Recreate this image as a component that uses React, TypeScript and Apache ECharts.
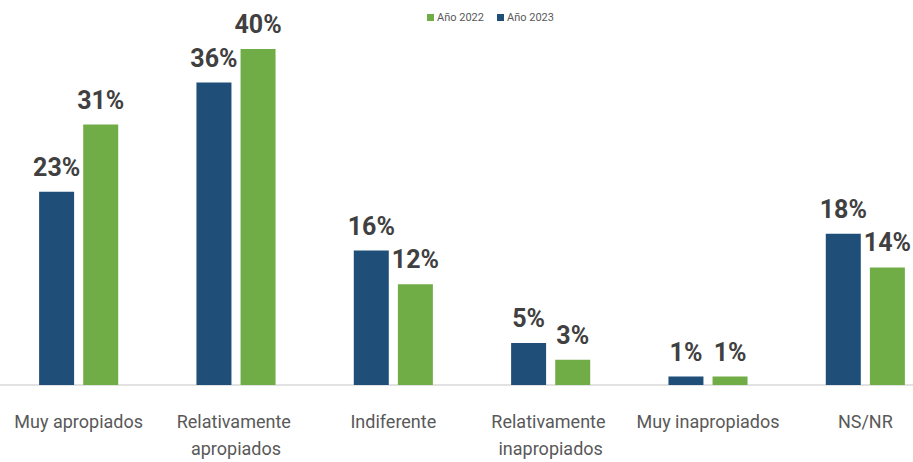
import React, { useEffect, useRef } from "react";
import * as echarts from "echarts";

const categories = [
  "Muy apropiados",
  "Relativamente apropiados",
  "Indiferente",
  "Relativamente inapropiados",
  "Muy inapropiados",
  "NS/NR",
];
const values2023 = [23, 36, 16, 5, 1, 18];
const values2022 = [31, 40, 12, 3, 1, 14];
const seriesNames = ["Año 2023", "Año 2022"];
const legendOrder = ["Año 2022", "Año 2023"];

const FONT = 'Roboto, "Liberation Sans", sans-serif';

export default function App() {
  const ref = useRef<HTMLDivElement>(null);
  useEffect(() => {
    if (!ref.current) return;
    const chart = echarts.init(ref.current, undefined, { renderer: "svg" });
    const labelStyle = {
      show: true,
      position: "top",
      distance: 12,
      formatter: "{c}%",
      fontFamily: FONT,
      fontWeight: "bold",
      fontSize: 25,
      color: "#404040",
    };
    chart.setOption({
      animation: false,
      backgroundColor: "#ffffff",
      textStyle: { fontFamily: FONT },
      legend: {
        data: legendOrder,
        left: 422,
        top: 7,
        itemWidth: 7,
        itemHeight: 7,
        itemGap: 13,
        icon: "rect",
        textStyle: { fontFamily: FONT, fontSize: 11, color: "#595959", padding: [0, 0, 0, -2] },
      },
      grid: {
        left: 0,
        right: -31,
        top: 7,
        bottom: 77,
        containLabel: false,
        outerBoundsMode: "none",
      },
      xAxis: {
        type: "category",
        data: categories,
        axisTick: { show: false },
        axisLine: { lineStyle: { color: "#D9D9D9", width: 1.5 } },
        axisLabel: {
          interval: 0,
          margin: 23,
          fontFamily: FONT,
          fontSize: 18,
          lineHeight: 27,
          color: "#595959",
          width: 150,
          overflow: "break",
        },
      },
      yAxis: {
        type: "value",
        min: 0,
        max: 45,
        show: false,
        splitLine: { show: false },
      },
      series: [
        {
          name: seriesNames[0],
          type: "bar",
          data: values2023,
          barWidth: 35,
          barGap: "26%",
          itemStyle: { color: "#1F4E79" },
          label: labelStyle,
        },
        {
          name: seriesNames[1],
          type: "bar",
          data: values2022,
          barWidth: 35,
          barGap: "26%",
          itemStyle: { color: "#70AD47" },
          label: labelStyle,
        },
      ],
    });
    return () => chart.dispose();
  }, []);
  return (
    <div
      ref={ref}
      style={{ position: "fixed", left: 0, top: 0, width: 913, height: 462 }}
    />
  );
}
